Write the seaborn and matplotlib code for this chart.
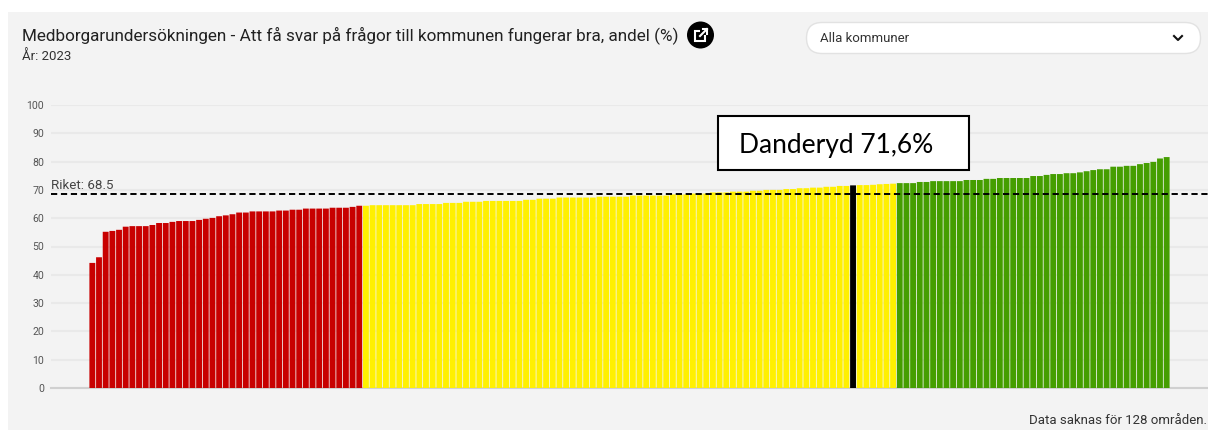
import pandas as pd
import seaborn as sns
import matplotlib.pyplot as plt
from matplotlib.patches import Rectangle, FancyBboxPatch, Circle

title = 'Medborgarundersökningen - Att få svar på frågor till kommunen fungerar bra, andel (%)'
subtitle = 'År: 2023'

# values, sorted low to high
red_values = [44.2, 46.2, 55.2, 55.5, 55.9, 57.0, 57.2, 57.2, 57.2, 57.6, 58.3, 58.3, 58.7, 59.0,
              59.0, 59.0, 59.4, 59.8, 60.1, 60.7, 61.0, 61.4, 62.0, 62.0, 62.4, 62.4, 62.4, 62.4,
              62.7, 62.7, 63.0, 63.0, 63.4, 63.4, 63.4, 63.4, 63.7, 63.7, 63.7, 64.0, 64.4]
yellow_values = [64.4, 64.6, 64.6, 64.6, 64.6, 64.6, 64.6, 64.6, 65.0, 65.0, 65.0, 65.0, 65.4, 65.4,
                 65.4, 65.8, 65.8, 65.8, 66.1, 66.1, 66.1, 66.1, 66.1, 66.1, 66.5, 66.5, 66.9, 66.9,
                 66.9, 67.3, 67.3, 67.3, 67.3, 67.3, 67.3, 67.6, 67.6, 67.6, 67.6, 67.6, 68.0, 68.0,
                 68.0, 68.0, 68.0, 68.0, 68.4, 68.4, 68.4, 68.7, 68.7, 68.7, 69.1, 69.1, 69.1, 69.4,
                 69.4, 69.4, 69.7, 69.7, 70.0, 70.0, 70.0, 70.3, 70.3, 70.6, 70.6, 70.8, 70.8, 71.1,
                 71.1, 71.4, 71.4]
danderyd_value = [71.6]
yellow_after = [71.7, 71.7, 71.8, 72.0, 72.1, 72.2]
green_values = [72.4, 72.4, 72.4, 72.8, 72.8, 73.1, 73.1, 73.1, 73.1, 73.1, 73.5, 73.5, 73.5, 73.9,
                73.9, 74.2, 74.2, 74.2, 74.2, 74.2, 74.9, 74.9, 75.3, 75.6, 75.6, 75.9, 75.9, 76.2,
                76.6, 77.0, 77.3, 77.3, 78.2, 78.2, 78.5, 78.5, 79.1, 79.5, 79.9, 81.1, 81.6]
riket = 68.5
y_ticks = [0, 10, 20, 30, 40, 50, 60, 70, 80, 90, 100]

plt.rcParams['font.family'] = ['Roboto', 'DejaVu Sans']

values = red_values + yellow_values + danderyd_value + yellow_after + green_values
groups = (['red'] * len(red_values) + ['yellow'] * len(yellow_values) + ['danderyd']
          + ['yellow'] * len(yellow_after) + ['green'] * len(green_values))
df = pd.DataFrame({'kommun': [str(i) for i in range(len(values))], 'andel': values, 'grupp': groups})
colors = {'red': '#c80000', 'yellow': '#fff000', 'green': '#459e00', 'danderyd': '#000000'}

W, H = 1208, 430
fig = plt.figure(figsize=(W / 100, H / 100), dpi=100, facecolor='white')

# gray panel behind everything, in pixel coordinates
back = fig.add_axes([0, 0, 1, 1], zorder=0)
back.set_xlim(0, W)
back.set_ylim(H, 0)
back.axis('off')
back.add_patch(Rectangle((8, 12), W - 8, H - 12, facecolor='#f3f3f3', edgecolor='none'))

# y=105 is 100 and y=388 is 0
ax = fig.add_axes([51 / W, 1 - 388 / H, (W - 51) / W, 283 / H], zorder=1)
ax.patch.set_alpha(0)
sns.barplot(data=df, x='kommun', y='andel', hue='grupp', palette=colors, dodge=False,
            width=0.88, saturation=1, legend=False, ax=ax, zorder=3)
# no pixel snapping, so the gaps come out soft and even
for bar in ax.patches:
    bar.set_snap(False)
# bar 0 starts at px 89, pitch is about 6.67 px
pitch = (1170 - 89) / len(values)
ax.set_xlim(-0.5 - (89 - 51) / pitch, -0.5 + (W - 89) / pitch)
ax.set_ylim(0, 100)
ax.set_yticks(y_ticks)
ax.set_xticks([])
ax.set_xlabel('')
ax.set_ylabel('')
ax.grid(axis='y', color='#e9e9e9', lw=1.5, zorder=0)
ax.set_axisbelow(True)
ax.tick_params(axis='y', length=0, pad=5, labelsize=7.6, labelcolor='#555555')
for s in ['top', 'right', 'left']:
    ax.spines[s].set_visible(False)
ax.spines['bottom'].set_color('#d0d0d0')
ax.spines['bottom'].set_linewidth(1.5)

ax.axhline(riket, color='black', lw=1.4, ls=(0, (3.2, 1.9)), zorder=5)
ax.annotate(f'Riket: {riket}', xy=(0, riket), xycoords=('axes fraction', 'data'), xytext=(0, 1.6),
            textcoords='offset points', fontsize=9.6, color='#444444', va='bottom', zorder=6)

# header, dropdown, icon and callout box, in pixel coordinates
ui = fig.add_axes([0, 0, 1, 1], zorder=2)
ui.set_xlim(0, W)
ui.set_ylim(H, 0)
ui.axis('off')
ui.patch.set_alpha(0)
ui.text(22, 35, title, fontsize=12.33, color='#222222', va='center', ha='left')
ui.text(22, 57, subtitle, fontsize=9.5, color='#333333', va='center', ha='left')

ui.add_patch(Circle((700.5, 35), 13.5, facecolor='black', edgecolor='none'))
ui.add_patch(Rectangle((695, 31), 10, 10, facecolor='none', edgecolor='white', lw=1.5))
ui.add_patch(Rectangle((700, 27), 7, 8, facecolor='black', edgecolor='none'))
ui.plot([700, 707], [36, 29], color='white', lw=1.5)
ui.plot([702.5, 707, 707], [29, 29, 33.5], color='white', lw=1.5)

ui.add_patch(FancyBboxPatch((806.5, 22.5), 394, 31, boxstyle='round,pad=0,rounding_size=15.5',
                            facecolor='white', edgecolor='#e2e2e2', lw=1))
ui.text(820, 38, 'Alla kommuner', fontsize=9.5, color='#333333', va='center', ha='left')
ui.plot([1174, 1178, 1182], [36, 40, 36], color='#111111', lw=1.5)

ui.add_patch(Rectangle((718, 116), 251, 54, facecolor='white', edgecolor='black', lw=1.5))
ui.text(739, 146, 'Danderyd 71,6%', fontsize=19, family=['Lato', 'DejaVu Sans'], color='black',
        va='center', ha='left')

ui.text(1207, 421, 'Data saknas för 128 områden.', fontsize=9.5, color='#333333', va='center', ha='right')

fig.savefig('out.png', dpi=100)
